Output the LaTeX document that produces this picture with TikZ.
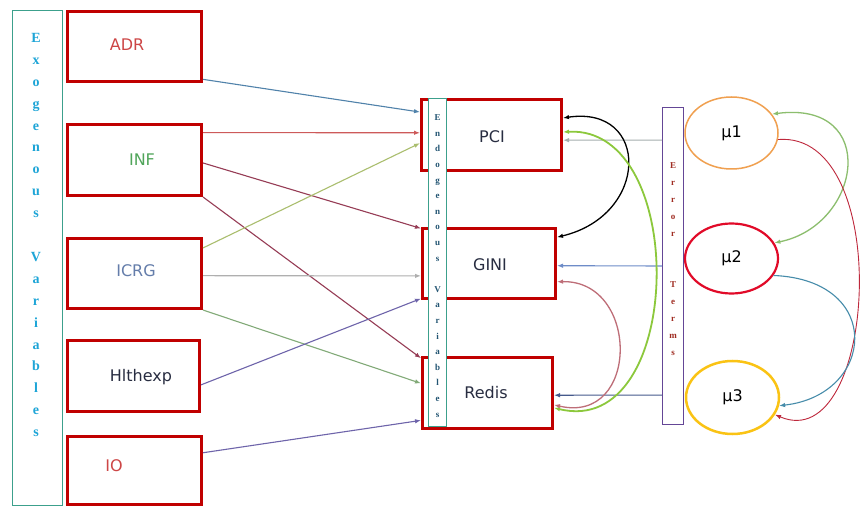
\documentclass[tikz,border=0pt]{standalone}
\usepackage{fontspec}
\setmainfont{DejaVu Sans}
\newfontfamily\stripfont{Liberation Serif}
\usetikzlibrary{arrows.meta,calc,shapes.geometric}

\begin{document}
\begin{tikzpicture}[x=1pt,y=-1pt,
  exobox/.style={draw=boxRed,line width=2.6pt,minimum width=134.4pt,minimum height=70.4pt,inner sep=0pt},
  endobox/.style={draw=boxRed,line width=2.6pt,inner sep=0pt},
  strip/.style={fill=white,line width=1.2pt,inner sep=0pt},
  boxtxt/.style={font=\fontsize{16}{19}\selectfont,inner sep=0pt},
  stack/.style={align=center,inner sep=0pt},
  errell/.style={ellipse,draw,minimum width=93pt,inner sep=0pt,font=\fontsize{16}{19}\selectfont},
  link/.style={line width=1.1pt,-{Latex[length=6pt,width=4.5pt]}},
  twoway/.style={line width=1.3pt,{Latex[length=6pt,width=4.5pt]}-{Latex[length=6pt,width=4.5pt]}}
]
\definecolor{boxRed}{RGB}{192,0,0}
\definecolor{stripTeal}{RGB}{60,160,140}
\definecolor{stripViolet}{RGB}{100,70,150}
\definecolor{exoLetters}{RGB}{30,165,215}
\definecolor{endoLetters}{RGB}{35,85,115}
\definecolor{errLetters}{RGB}{160,45,35}
\definecolor{txtRed}{RGB}{205,70,70}
\definecolor{txtGreen}{RGB}{80,165,90}
\definecolor{txtBlue}{RGB}{100,125,170}
\definecolor{txtDark}{RGB}{40,45,65}
\definecolor{adrBlue}{RGB}{80,130,170}
\definecolor{infRed}{RGB}{205,90,90}
\definecolor{infMaroon}{RGB}{150,60,85}
\definecolor{icrgOlive}{RGB}{170,190,110}
\definecolor{icrgGrey}{RGB}{175,175,175}
\definecolor{icrgGreen}{RGB}{130,170,120}
\definecolor{hlthPurple}{RGB}{110,100,170}
\definecolor{errGrey}{RGB}{165,175,175}
\definecolor{errBlue}{RGB}{110,140,200}
\definecolor{errNavy}{RGB}{70,90,140}
\definecolor{arcGreen}{RGB}{140,200,60}
\definecolor{arcPink}{RGB}{190,110,120}
\definecolor{muGreen}{RGB}{140,190,110}
\definecolor{muRed}{RGB}{190,40,60}
\definecolor{muTeal}{RGB}{70,140,170}
\definecolor{muOrange}{RGB}{240,160,80}
\definecolor{muRing}{RGB}{225,10,40}
\definecolor{muYellow}{RGB}{250,195,20}
\path[use as bounding box,fill=white] (0,0) rectangle (862,510);

% exogenous side
\node[strip,draw=stripTeal,minimum width=50pt,minimum height=495pt] (exo) at (37.5,258) {};
\node[stack,text=exoLetters,font=\stripfont\bfseries\fontsize{14}{21.9}\selectfont] (exotxt) at (36,235)
  {E\\x\\o\\g\\e\\n\\o\\u\\s\\[21.9pt]V\\a\\r\\i\\a\\b\\l\\e\\s};

\node[exobox] (adr) at (134.5,46.5) {};
\node[exobox,minimum height=71.4pt] (inf) at (134.5,160) {};
\node[exobox] (icrg) at (134.5,273.5) {};
\node[exobox,minimum width=132.4pt,minimum height=71.4pt] (hlth) at (133.5,376) {};
\node[exobox,minimum height=68.4pt] (io) at (134.5,470.5) {};
\node[boxtxt,text=txtRed] (adrtxt) at (127,45) {ADR};
\node[boxtxt,text=txtGreen] (inftxt) at (142,160) {INF};
\node[boxtxt,text=txtBlue] (icrgtxt) at (136,271) {ICRG};
\node[boxtxt,text=txtDark] (hlthtxt) at (141,377) {Hlthexp};
\node[boxtxt,text=txtRed] (iotxt) at (114,466) {IO};

% endogenous side
\node[endobox,minimum width=140.4pt,minimum height=71.4pt] (pci) at (491.5,135) {};
\node[endobox,minimum width=133.4pt,minimum height=70.4pt] (gini) at (489,263.5) {};
\node[endobox,minimum width=130.4pt,minimum height=71.4pt] (redis) at (487.5,393) {};
\node[strip,draw=stripTeal,minimum width=17.8pt,minimum height=327.8pt] (endo) at (437.5,262.5) {};
\node[stack,text=endoLetters,font=\stripfont\bfseries\fontsize{9}{15.6}\selectfont] (endotxt) at (437.5,266)
  {E\\n\\d\\o\\g\\e\\n\\o\\u\\s\\[15.6pt]V\\a\\r\\i\\a\\b\\l\\e\\s};
\node[boxtxt,text=txtDark] (pcitxt) at (492,137) {PCI};
\node[boxtxt,text=txtDark] (ginitxt) at (490,265) {GINI};
\node[boxtxt,text=txtDark] (redistxt) at (486,393) {Redis};

% error terms
\node[strip,draw=stripViolet,minimum width=20.8pt,minimum height=316.8pt] (err) at (673,266) {};
\node[stack,text=errLetters,font=\stripfont\bfseries\fontsize{9}{17}\selectfont] (errtxt) at (673,259)
  {E\\r\\r\\o\\r\\[34pt]T\\e\\r\\m\\s};
\node[errell,draw=muOrange,line width=1.5pt,minimum height=72pt] (mu1) at (731.5,133) {μ1};
\node[errell,draw=muRing,line width=2.2pt,minimum height=70pt] (mu2) at (731.5,258.5) {μ2};
\node[errell,draw=muYellow,line width=2.5pt,minimum height=73pt] (mu3) at (732.5,397.5) {μ3};

% exogenous -> endogenous
\draw[link,adrBlue] ($(adr.north east)!0.95!(adr.south east)$) -- ($(pci.north west)!0.19!(pci.south west)$);
\draw[link,infRed] ($(inf.north east)!0.13!(inf.south east)$) -- ($(pci.north west)!0.47!(pci.south west)$);
\draw[link,infMaroon] ($(inf.north east)!0.54!(inf.south east)$) -- ($(gini.north west)!0.02!(gini.south west)$);
\draw[link,infMaroon] (inf.south east) -- ($(redis.north west)!0.03!(redis.south west)$);
\draw[link,icrgOlive] ($(icrg.north east)!0.15!(icrg.south east)$) -- ($(pci.north west)!0.61!(pci.south west)$);
\draw[link,icrgGrey] ($(icrg.north east)!0.53!(icrg.south east)$) -- ($(gini.north west)!0.67!(gini.south west)$);
\draw[link,icrgGreen] (icrg.south east) -- ($(redis.north west)!0.37!(redis.south west)$);
\draw[link,hlthPurple] ($(hlth.north east)!0.62!(hlth.south east)$) -- ($(gini.north west)!0.98!(gini.south west)$);
\draw[link,hlthPurple] ($(io.north east)!0.25!(io.south east)$) -- ($(redis.north west)!0.87!(redis.south west)$);

% error terms -> endogenous
\draw[link,errGrey] ($(err.north west)!0.104!(err.south west)$) -- ($(pci.north east)!0.57!(pci.south east)$);
\draw[link,errBlue] (err.west) -- ($(gini.north east)!0.53!(gini.south east)$);
\draw[link,errNavy] ($(err.north west)!0.906!(err.south west)$) -- ($(redis.north east)!0.53!(redis.south east)$);

% correlations
\draw[twoway,black] ($(pci.north east)!0.27!(pci.south east)$) .. controls (650,105) and (650,215) .. ($(gini.north east)!0.14!(gini.south east)$);
\draw[twoway,arcGreen,line width=1.8pt] ($(pci.north east)!0.46!(pci.south east)$) .. controls (690,125) and (685,440) .. ($(redis.north east)!0.70!(redis.south east)$);
\draw[twoway,arcPink] ($(gini.north east)!0.75!(gini.south east)$) .. controls (640,280) and (640,425) .. ($(redis.north east)!0.66!(redis.south east)$);
\draw[twoway,muGreen] (mu1.25) .. controls (880,100) and (862,225) .. (mu2.20);
\draw[link,muRed,line width=0.9pt] (mu1.-8) .. controls (895,130) and (877,458) .. (mu3.-22);
\draw[link,muTeal] (mu2.-22) .. controls (885,280) and (875,395) .. (mu3.-10);
\end{tikzpicture}
\end{document}
